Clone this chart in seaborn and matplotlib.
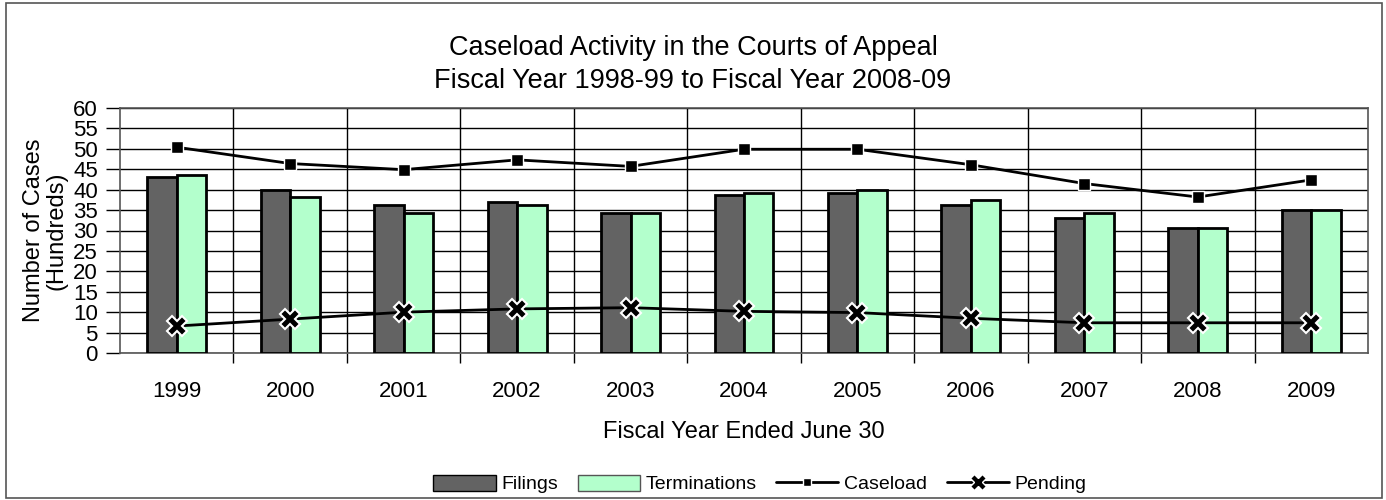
import pandas as pd
import matplotlib.pyplot as plt
import matplotlib.patches as mpatches
from matplotlib.lines import Line2D
import seaborn as sns

# Values (hundreds of cases)
years = ["1999", "2000", "2001", "2002", "2003", "2004", "2005", "2006", "2007", "2008", "2009"]
filings = [43.1, 40.0, 36.2, 36.9, 34.3, 38.7, 39.3, 36.2, 33.1, 30.7, 34.9]
terminations = [43.7, 38.2, 34.3, 36.2, 34.3, 39.3, 39.8, 37.4, 34.3, 30.5, 34.9]
caseload = [50.4, 46.4, 44.9, 47.3, 45.7, 49.9, 49.9, 46.1, 41.5, 38.2, 42.4]
pending = [6.6, 8.3, 10.0, 10.8, 11.1, 10.2, 9.9, 8.5, 7.4, 7.4, 7.4]

bar_colors = ["#636363", "#b3ffcc"]

sns.set_style("white")
plt.rcParams['font.family'] = ['Liberation Sans', 'DejaVu Sans']
plt.rcParams['text.color'] = 'black'
plt.rcParams['axes.labelcolor'] = 'black'
plt.rcParams['xtick.color'] = 'black'
plt.rcParams['ytick.color'] = 'black'

df = pd.DataFrame({
    "year": years * 2,
    "value": filings + terminations,
    "series": ["Filings"] * len(years) + ["Terminations"] * len(years),
})

fig = plt.figure(figsize=(13.86, 5), dpi=100)
ax = fig.add_axes([120 / 1386, 1 - 353 / 500, 1248 / 1386, 245 / 500])

sns.barplot(data=df, x="year", y="value", hue="series", palette=bar_colors,
            width=0.52, edgecolor="black", linewidth=2, saturation=1,
            legend=False, ax=ax, zorder=3)

xs = range(len(years))
ax.plot(xs, caseload, color="black", lw=2, marker="s", ms=8, mfc="black",
        mec="white", mew=1, zorder=5)
ax.plot(xs, pending, color="black", lw=2, marker="X", ms=14, mfc="black",
        mec="white", mew=1.5, zorder=5)

# axes and grid
ax.set_xlim(-0.5, len(years) - 0.5)
ax.set_ylim(0, 60)
ax.set_yticks(range(0, 61, 5))
ax.set_xticks([i + 0.5 for i in range(len(years) - 1)], minor=True)
ax.grid(axis="y", color="black", lw=1, zorder=0)
ax.grid(axis="x", which="minor", color="black", lw=1, zorder=0)
ax.grid(axis="x", which="major", visible=False)
for s in ax.spines.values():
    s.set_color("#555555")
    s.set_linewidth(1.2)
ax.tick_params(axis="y", direction="out", length=10, width=1, labelsize=16, pad=6, left=True)
ax.tick_params(axis="x", which="major", length=0, labelsize=16, pad=20)
ax.tick_params(axis="x", which="minor", direction="out", length=7, width=1, bottom=True)

ax.set_xlabel("Fiscal Year Ended June 30", fontsize=17, labelpad=14)
ax.set_ylabel("Number of Cases\n(Hundreds)", fontsize=17, labelpad=4, linespacing=1.0)

fig.suptitle("Caseload Activity in the Courts of Appeal\nFiscal Year 1998-99 to Fiscal Year 2008-09",
             fontsize=19.5, y=0.93, linespacing=1.35)

handles = [
    mpatches.Patch(facecolor=bar_colors[0], edgecolor="black", label="Filings"),
    mpatches.Patch(facecolor=bar_colors[1], edgecolor="#555555", label="Terminations"),
    Line2D([0], [0], color="black", lw=2, marker="s", ms=6, mfc="black", mec="white", label="Caseload"),
    Line2D([0], [0], color="black", lw=2, marker="X", ms=11, mfc="black", mec="white", label="Pending"),
]
fig.legend(handles=handles, loc="center", bbox_to_anchor=(760 / 1386, 1 - 484 / 500), ncol=4,
           frameon=False, fontsize=14, handlelength=3.2, handleheight=0.9,
           handletextpad=0.3, columnspacing=1.0)

# outer frame around the whole chart
fig.patches.append(mpatches.Rectangle((0.004, 0.004), 0.993, 0.99, transform=fig.transFigure,
                                      fill=False, edgecolor="#555555", lw=1.2))

fig.savefig("out.png", dpi=100)
